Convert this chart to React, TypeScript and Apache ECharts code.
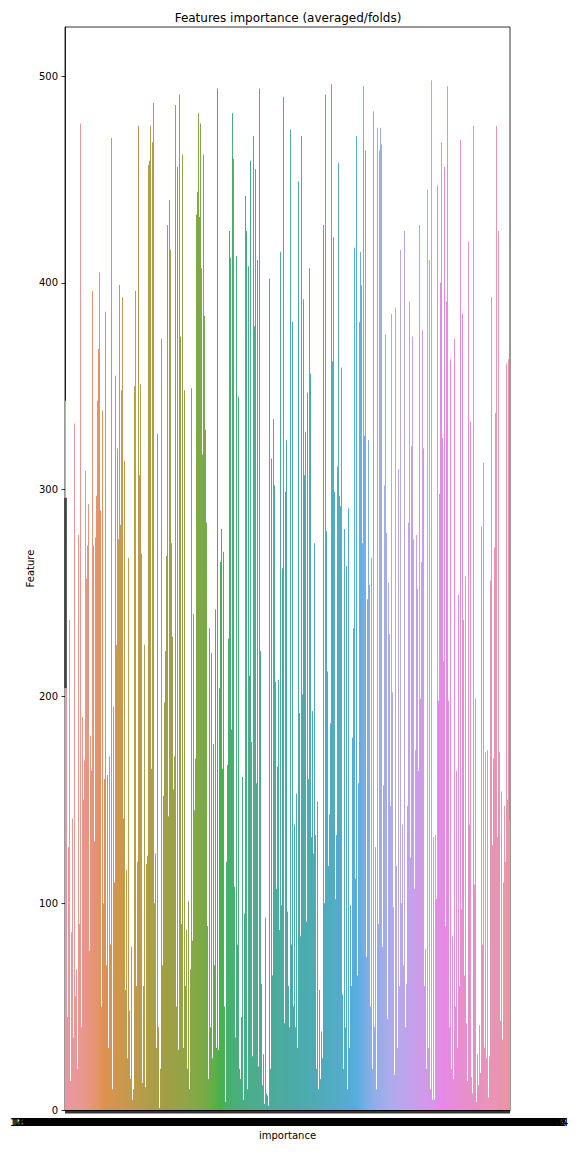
import React, { useEffect, useRef } from "react";
import * as echarts from "echarts";

// Bar heights (Feature) per importance category, read left to right
const featureValues: number[] = [
  343,205,45,127,237,14,86,141,35,332,
  55,68,20,278,90,477,40,190,150,169,
  309,257,273,293,77,181,164,396,273,130,
  277,297,343,368,405,290,50,338,100,160,
  386,70,162,30,171,80,470,10,195,110,
  355,225,320,276,399,283,348,393,141,314,
  58,116,25,267,48,15,79,5,10,350,
  396,60,120,476,307,351,269,13,60,225,
  11,119,123,457,459,476,165,468,487,100,
  124,30,327,40,1,20,373,70,152,197,
  222,268,428,142,440,416,274,229,155,171,
  486,50,
  456,29,491,374,90,462,30,348,60,87,
  20,101,10,68,349,82,240,145,170,433,
  444,482,432,477,407,317,462,384,329,284,
  89,15,233,40,221,25,177,70,242,30,
  494,29,204,265,281,165,270,50,4,120,
  167,228,425,412,184,482,460,108,35,413,
  80,345,20,15,45,161,5,95,442,425,
  10,408,210,459,178,26,471,379,455,158,
  411,21,494,222,61,12,27,3,93,8,
  7,2,402,20,315,65,334,302,207,107,
  166,208,87,415,99,262,490,42,299,324,
  96,60,40,
  474,80,381,50,138,40,153,30,449,192,
  84,471,201,392,307,328,91,347,160,407,
  356,132,193,124,274,133,20,149,10,58,
  15,38,25,428,100,491,280,212,118,143,
  187,496,362,422,299,102,133,311,458,297,
  292,359,56,20,281,40,263,10,291,30,
  99,60,180,233,417,112,471,65,158,381,
  415,399,274,495,326,464,74,247,324,254,
  50,267,20,483,40,127,10,475,90,464,
  475,467,79,157,302,375,279,44,255,230,
  147,385,202,98,17,388,118,30,310,60,
  416,100,138,
  70,425,40,61,147,284,391,122,321,374,
  276,107,174,278,252,164,428,199,265,377,
  320,60,78,20,445,30,411,10,498,5,
  132,5,133,102,447,198,298,400,468,325,
  217,456,89,391,495,198,40,363,20,84,
  15,373,50,164,30,249,60,469,97,385,
  237,65,258,42,14,420,138,333,16,8,
  476,109,199,4,27,12,41,18,282,80,
  313,30,173,25,174,6,26,256,393,128,
  170,272,337,476,132,425,173,43,154,34,
  110,147,120,361,150,363,140,
];

// Error bar (confidence interval) on the first category
const errIndex: number[] = [0];
const errLow: number[] = [204];
const errHigh: number[] = [296];

const yTicks: number[] = [0, 100, 200, 300, 400, 500];
const yMax = 523.7;

// Category labels (importance values; they overlap into one band in the original)
const categories: string[] = featureValues.map((_, i) => (1 + i * 0.2).toFixed(16));

// ---- seaborn husl palette + desaturation ----
const M = [
  [3.240969941904521, -1.537383177570093, -0.498610760293],
  [-0.96924363628087, 1.87596750150772, 0.041555057407175],
  [0.055630079696993, -0.20397695888897, 1.056971514242878],
];
const refU = 0.19783000664283;
const refV = 0.46831999493879;
const kappa = 903.2962962;
const epsilon = 0.0088564516;

function getBounds(L: number) {
  const res: number[][] = [];
  const sub1 = Math.pow(L + 16, 3) / 1560896;
  const sub2 = sub1 > epsilon ? sub1 : L / kappa;
  for (let c = 0; c < 3; c++) {
    const [m1, m2, m3] = M[c];
    for (let t = 0; t < 2; t++) {
      const top1 = (284517 * m1 - 94839 * m3) * sub2;
      const top2 = (838422 * m3 + 769860 * m2 + 731718 * m1) * L * sub2 - 769860 * t * L;
      const bottom = (632260 * m3 - 126452 * m2) * sub2 + 126452 * t;
      res.push([top1 / bottom, top2 / bottom]);
    }
  }
  return res;
}
function maxChroma(L: number, H: number) {
  const hrad = (H / 360) * Math.PI * 2;
  let min = Infinity;
  for (const [slope, intercept] of getBounds(L)) {
    const len = intercept / (Math.sin(hrad) - slope * Math.cos(hrad));
    if (len >= 0) min = Math.min(min, len);
  }
  return min;
}
function husl2rgb(H: number, S: number, L: number): number[] {
  const C = (maxChroma(L, H) / 100) * S;
  const hrad = (H / 360) * 2 * Math.PI;
  const U = Math.cos(hrad) * C;
  const V = Math.sin(hrad) * C;
  const varU = U / (13 * L) + refU;
  const varV = V / (13 * L) + refV;
  const Y = L <= 8 ? L / kappa : Math.pow((L + 16) / 116, 3);
  const X = -(9 * Y * varU) / ((varU - 4) * varV - varU * varV);
  const Z = (9 * Y - 15 * varV * Y - varV * X) / (3 * varV);
  return M.map((row) => {
    const c = row[0] * X + row[1] * Y + row[2] * Z;
    const v = c <= 0.0031308 ? 12.92 * c : 1.055 * Math.pow(c, 1 / 2.4) - 0.055;
    return Math.min(1, Math.max(0, v));
  });
}
function rgb2hls(r: number, g: number, b: number) {
  const maxc = Math.max(r, g, b);
  const minc = Math.min(r, g, b);
  const l = (minc + maxc) / 2;
  if (minc === maxc) return [0, l, 0];
  const s = l <= 0.5 ? (maxc - minc) / (maxc + minc) : (maxc - minc) / (2 - maxc - minc);
  const rc = (maxc - r) / (maxc - minc);
  const gc = (maxc - g) / (maxc - minc);
  const bc = (maxc - b) / (maxc - minc);
  let h;
  if (r === maxc) h = bc - gc;
  else if (g === maxc) h = 2 + rc - bc;
  else h = 4 + gc - rc;
  h = (((h / 6) % 1) + 1) % 1;
  return [h, l, s];
}
function vv(m1: number, m2: number, hue: number) {
  hue = ((hue % 1) + 1) % 1;
  if (hue < 1 / 6) return m1 + (m2 - m1) * hue * 6;
  if (hue < 0.5) return m2;
  if (hue < 2 / 3) return m1 + (m2 - m1) * (2 / 3 - hue) * 6;
  return m1;
}
function hls2rgb(h: number, l: number, s: number) {
  if (s === 0) return [l, l, l];
  const m2 = l <= 0.5 ? l * (1 + s) : l + s - l * s;
  const m1 = 2 * l - m2;
  return [vv(m1, m2, h + 1 / 3), vv(m1, m2, h), vv(m1, m2, h - 1 / 3)];
}
function toHex(rgb: number[]) {
  return (
    "#" +
    rgb
      .map((v) => Math.round(Math.min(1, Math.max(0, v)) * 255).toString(16).padStart(2, "0"))
      .join("")
  );
}
function huslPalette(n: number): string[] {
  const out: string[] = [];
  for (let i = 0; i < n; i++) {
    let h = i / n + 0.01;
    h = h % 1;
    const rgb = husl2rgb(h * 359, 0.9 * 99, 0.7 * 99);
    const [hh, ll, ss] = rgb2hls(rgb[0], rgb[1], rgb[2]);
    out.push(toHex(hls2rgb(hh, ll, ss * 0.75)));
  }
  return out;
}

const FONT = "DejaVu Sans";

export default function App() {
  const ref = useRef<HTMLDivElement>(null);
  useEffect(() => {
    if (!ref.current) return;
    const chart = echarts.init(ref.current, undefined, { renderer: "svg" });
    const palette = huslPalette(featureValues.length);
    chart.setOption({
      animation: false,
      backgroundColor: "#ffffff",
      title: {
        text: "Features importance (averaged/folds)",
        left: "center",
        top: 7,
        textStyle: { fontFamily: FONT, fontSize: 12, fontWeight: "normal", color: "#000" },
      },
      grid: {
        left: 65,
        right: 66,
        top: 27,
        bottom: 42,
        show: true,
        borderColor: "#000",
        borderWidth: 0.8,
        backgroundColor: "transparent",
      },
      xAxis: {
        type: "category",
        data: categories,
        name: "importance",
        nameLocation: "middle",
        nameGap: 20,
        nameMoveOverlap: false,
        nameTextStyle: { fontFamily: FONT, fontSize: 10, color: "#000" },
        axisLine: { show: true, lineStyle: { color: "#000", width: 0.8 } },
        axisTick: { show: true, interval: 0, alignWithLabel: true, length: 3.5, lineStyle: { color: "#000", width: 0.8 } },
        axisLabel: { interval: 0, margin: 7, fontFamily: FONT, fontSize: 10, color: "#000", hideOverlap: false },
        splitLine: { show: false },
      },
      yAxis: {
        type: "value",
        min: 0,
        max: yMax,
        interval: 100,
        name: "Feature",
        nameLocation: "middle",
        nameGap: 30,
        nameMoveOverlap: false,
        nameRotate: 90,
        nameTextStyle: { fontFamily: FONT, fontSize: 10, color: "#000" },
        axisLine: { show: true, lineStyle: { color: "#000", width: 0.8 } },
        axisTick: { show: true, length: 3.5, lineStyle: { color: "#000", width: 0.8 }, customValues: yTicks },
        axisLabel: { margin: 7, fontFamily: FONT, fontSize: 10, color: "#000", customValues: yTicks },
        splitLine: { show: false },
      },
      series: [
        {
          type: "bar",
          data: featureValues,
          barCategoryGap: "12%",
          itemStyle: { color: (p: any) => palette[p.dataIndex] },
        },
        {
          type: "custom",
          data: errIndex.map((c, k) => [c, errLow[k], errHigh[k]]),
          encode: { x: 0, y: [1, 2] },
          z: 10,
          renderItem: (_params: any, api: any) => {
            const p1 = api.coord([api.value(0), api.value(1)]);
            const p2 = api.coord([api.value(0), api.value(2)]);
            return {
              type: "line",
              shape: { x1: p1[0], y1: p1[1], x2: p2[0], y2: p2[1] },
              style: { stroke: "#424242", lineWidth: 2.7 },
            };
          },
        },
      ],
    });
    return () => chart.dispose();
  }, []);
  return (
    <div
      ref={ref}
      style={{ position: "fixed", left: 0, top: 0, width: 576, height: 1152, background: "#fff" }}
    />
  );
}
